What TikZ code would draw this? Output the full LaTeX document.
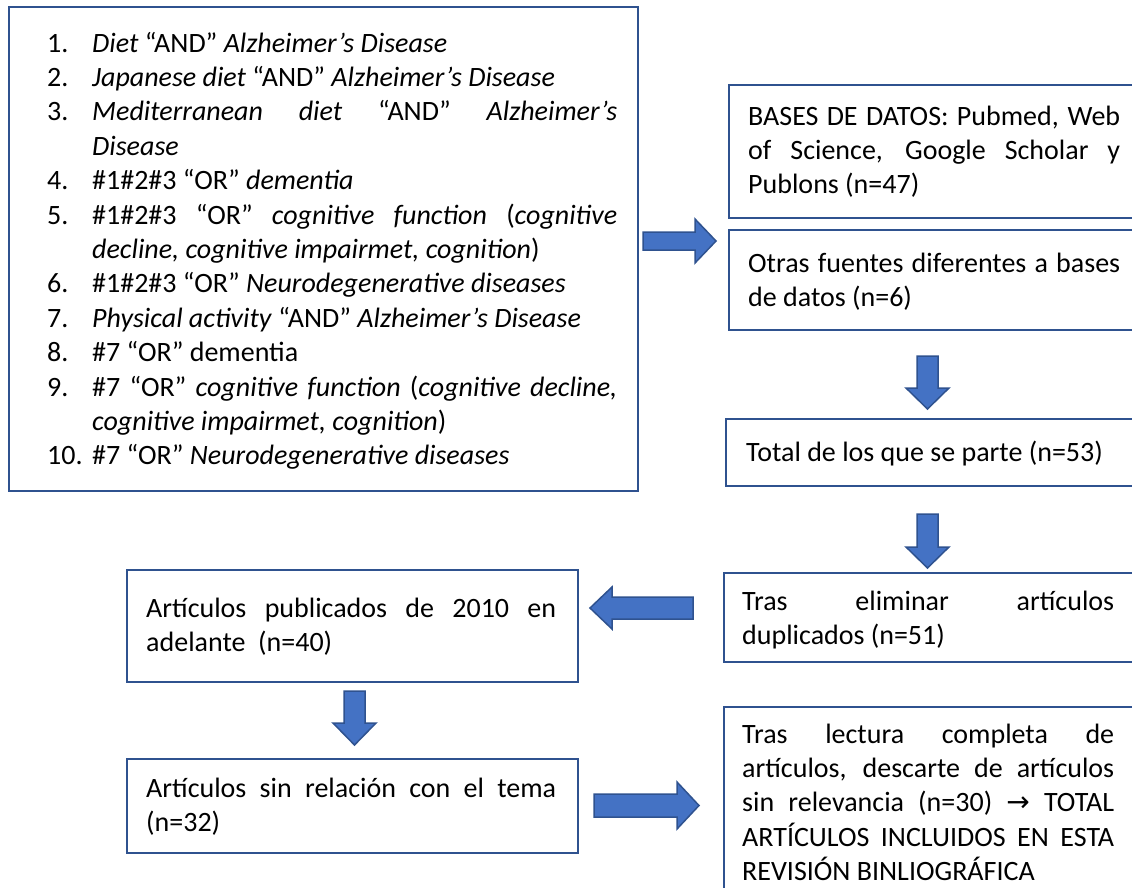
\documentclass[tikz,border=0pt]{standalone}
\usepackage{fontspec}
\setmainfont{Carlito}
\newfontfamily\symfont{DejaVu Sans}
\definecolor{bordercol}{HTML}{2F528F}
\definecolor{arrowfill}{HTML}{4472C4}
\definecolor{arrowline}{HTML}{2F528F}
\newcommand{\mainfs}{\fontsize{28}{34.4}\selectfont\hyphenpenalty=10000\exhyphenpenalty=10000}
\newcommand{\litem}[2]{\noindent\hangindent=45pt\hangafter=1\makebox[45pt][l]{#1}#2\par}
\tikzset{
  box/.style={draw=bordercol, line width=2pt, rectangle, inner sep=0pt, anchor=north west},
  txt/.style={anchor=base west, inner sep=0pt, align=justify, font=\mainfs},
  barrow/.style={fill=arrowfill, draw=arrowline, line width=1.5pt, line join=miter}
}
\begin{document}
\begin{tikzpicture}[x=1pt,y=-1pt]
\useasboundingbox (0,0) rectangle (1132,887);
\fill[white] (0,0) rectangle (1132,887);
\clip (0,0) rectangle (1132,887);

% boxes
\node[box, minimum width=629pt, minimum height=484pt] (q) at (8,6) {};
\node[box, minimum width=412pt, minimum height=133pt] (b1) at (728,84) {};
\node[box, minimum width=412pt, minimum height=100pt] (b2) at (728,229) {};
\node[box, minimum width=415pt, minimum height=67pt] (b3) at (725,418) {};
\node[box, minimum width=417pt, minimum height=89pt] (b4) at (723,572) {};
\node[box, minimum width=451pt, minimum height=112pt] (b5) at (126,569) {};
\node[box, minimum width=451pt, minimum height=94pt] (b6) at (126,758) {};
\node[box, minimum width=417pt, minimum height=200pt] (b7) at (723,706) {};

% texts
\node[txt, text width=570pt] (qt) at (47,52) {%
\litem{1.}{\textit{Diet} “AND” \textit{Alzheimer’s Disease}}%
\litem{2.}{\textit{Japanese diet} “AND” \textit{Alzheimer’s Disease}}%
\litem{3.}{\textit{Mediterranean diet} “AND” \textit{Alzheimer’s}\linebreak \textit{Disease}}%
\litem{4.}{\#1\#2\#3 “OR” \textit{dementia}}%
\litem{5.}{\#1\#2\#3 “OR” \textit{cognitive function} (\textit{cognitive}\linebreak \textit{decline, cognitive impairmet, cognition})}%
\litem{6.}{\#1\#2\#3 “OR” \textit{Neurodegenerative diseases}}%
\litem{7.}{\textit{Physical activity} “AND” \textit{Alzheimer’s Disease}}%
\litem{8.}{\#7 “OR” dementia}%
\litem{9.}{\#7 “OR” \textit{cognitive function} (\textit{cognitive decline,}\linebreak \textit{cognitive impairmet, cognition})}%
\litem{10.}{\#7 “OR” \textit{Neurodegenerative diseases}}};

\node[txt, text width=372pt] (b1t) at (748,125) {BASES DE DATOS: Pubmed, Web\linebreak of Science, Google Scholar y\linebreak Publons (n=47)};
\node[txt, text width=372pt] (b2t) at (748,272) {Otras fuentes diferentes a bases\linebreak de datos (n=6)};
\node[txt, text width=372pt] (b3t) at (746,461) {Total de los que se parte (n=53)};
\node[txt, text width=372pt] (b4t) at (742,610) {Tras eliminar artículos\linebreak duplicados (n=51)};
\node[txt, text width=410pt] (b5t) at (146,617) {Artículos publicados de 2010 en\linebreak adelante \ (n=40)};
\node[txt, text width=410pt] (b6t) at (146,797) {Artículos sin relación con el tema\linebreak (n=32)};
\node[txt, text width=372pt] (b7t) at (742,743) {Tras lectura completa de\linebreak artículos, descarte de artículos\linebreak sin relevancia (n=30) {\symfont\fontsize{28}{34.4}\selectfont →} TOTAL\linebreak ARTÍCULOS INCLUIDOS EN ESTA\linebreak REVISIÓN BINLIOGRÁFICA};

% block arrows
\draw[barrow] (643,232) -- (695,232) -- (695,219) -- (716,241) -- (695,263) -- (695,250) -- (643,250) -- cycle;
\draw[barrow] (917,356) -- (938,356) -- (938,388) -- (949,388) -- (927.5,409) -- (906,388) -- (917,388) -- cycle;
\draw[barrow] (917,514) -- (938,514) -- (938,547) -- (949,547) -- (927.5,568) -- (906,547) -- (917,547) -- cycle;
\draw[barrow] (693,597) -- (612,597) -- (612,587) -- (590,608) -- (612,629) -- (612,619) -- (693,619) -- cycle;
\draw[barrow] (344,691) -- (365,691) -- (365,723) -- (376,723) -- (354.5,745) -- (333,723) -- (344,723) -- cycle;
\draw[barrow] (594,794) -- (677,794) -- (677,782) -- (699,805.5) -- (677,829) -- (677,817) -- (594,817) -- cycle;
\end{tikzpicture}
\end{document}
